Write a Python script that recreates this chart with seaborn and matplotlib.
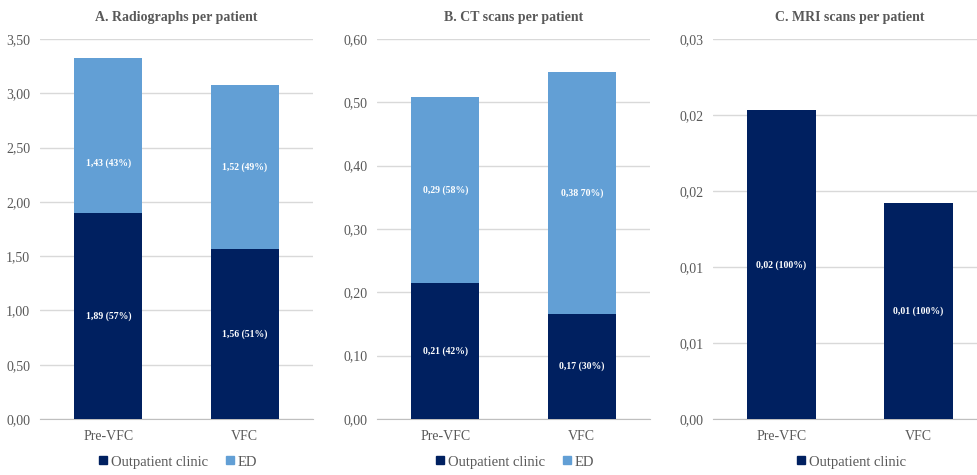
import matplotlib
matplotlib.use("Agg")
import matplotlib.pyplot as plt
from matplotlib.lines import Line2D
from matplotlib.ticker import MultipleLocator, FuncFormatter
from decimal import Decimal, ROUND_HALF_UP
import seaborn as sns
import pandas as pd

# data
periods = ["Pre-VFC", "VFC"]

xray_outpatient = [1.897, 1.566]
xray_ed = [1.428, 1.510]
xray_labels_op = ["1,89 (57%)", "1,56 (51%)"]
xray_labels_ed = ["1,43 (43%)", "1,52 (49%)"]

ct_outpatient = [0.215, 0.166]
ct_ed = [0.293, 0.382]
ct_labels_op = ["0,21 (42%)", "0,17 (30%)"]
ct_labels_ed = ["0,29 (58%)", "0,38 70%)"]

mri_outpatient = [0.0203, 0.0142]
mri_labels_op = ["0,02 (100%)", "0,01 (100%)"]

NAVY = "#002060"
LIGHT = "#629fd5"
GREY_TXT = "#595959"
SERIF = ["Liberation Serif", "DejaVu Serif"]

sns.set_style("white")
plt.rcParams["font.family"] = SERIF


def comma_fmt(v, pos):
    d = Decimal(str(round(v, 6))).quantize(Decimal("0.01"), rounding=ROUND_HALF_UP)
    return str(d).replace(".", ",")


def panel(ax, title, op, ed, lab_op, lab_ed, ymax, step, ed_frac=None):
    df = pd.DataFrame({"period": periods, "op": op})
    if ed is not None:
        df["total"] = [a + b for a, b in zip(op, ed)]
        sns.barplot(data=df, x="period", y="total", color=LIGHT, width=0.5,
                    saturation=1, linewidth=0, ax=ax, zorder=2)
    sns.barplot(data=df, x="period", y="op", color=NAVY, width=0.5,
                saturation=1, linewidth=0, ax=ax, zorder=3)

    for i in range(len(periods)):
        ax.text(i, op[i] / 2, lab_op[i], ha="center", va="center", color="white",
                fontsize=7, fontweight="bold", zorder=4)
        if ed is not None:
            f = ed_frac[i] if ed_frac else 0.5
            ax.text(i, op[i] + ed[i] * f, lab_ed[i], ha="center", va="center",
                    color="white", fontsize=7, fontweight="bold", zorder=4)

    ax.set_ylim(0, ymax)
    ax.set_xlim(-0.5, 1.5)
    ax.yaxis.set_major_locator(MultipleLocator(step))
    ax.yaxis.set_major_formatter(FuncFormatter(comma_fmt))
    ax.grid(axis="y", color="#d9d9d9", linewidth=1, zorder=0)
    ax.set_axisbelow(True)
    for s in ["top", "right", "left"]:
        ax.spines[s].set_visible(False)
    ax.spines["bottom"].set_color("#bfbfbf")
    ax.tick_params(axis="both", length=0, labelsize=10, labelcolor=GREY_TXT)
    ax.tick_params(axis="y", pad=7)
    ax.tick_params(axis="x", pad=8)
    for t in ax.get_xticklabels() + ax.get_yticklabels():
        t.set_family(SERIF)
    ax.set_xlabel("")
    ax.set_ylabel("")

    pos = ax.get_position()
    fig.text(pos.x0 + pos.width / 2, 1 - 17 / 475, title, ha="center", va="center",
             fontsize=10, fontweight="bold", color=GREY_TXT)

    handles = [Line2D([], [], marker="s", linestyle="", color=NAVY, markersize=6)]
    names = ["Outpatient clinic"]
    if ed is not None:
        handles.append(Line2D([], [], marker="s", linestyle="", color=LIGHT, markersize=6))
        names.append("ED")
    fig.legend(handles, names, loc="center",
               bbox_to_anchor=(pos.x0 + pos.width / 2, 1 - 462 / 475),
               ncol=len(names), frameon=False, prop={"family": SERIF, "size": 10.5},
               handletextpad=0.05, columnspacing=1.0, handlelength=1.0,
               labelcolor=GREY_TXT)


fig = plt.figure(figsize=(9.78, 4.75), dpi=100)
bottom = 1 - 419 / 475
height = 380 / 475
ax1 = fig.add_axes([40 / 978, bottom, 273 / 978, height])
ax2 = fig.add_axes([377 / 978, bottom, 273 / 978, height])
ax3 = fig.add_axes([713 / 978, bottom, 274 / 978, height])

panel(ax1, "A. Radiographs per patient", xray_outpatient, xray_ed,
      xray_labels_op, xray_labels_ed, 3.5, 0.5, ed_frac=[0.32, 0.5])
panel(ax2, "B. CT scans per patient", ct_outpatient, ct_ed,
      ct_labels_op, ct_labels_ed, 0.6, 0.1)
panel(ax3, "C. MRI scans per patient", mri_outpatient, None,
      mri_labels_op, None, 0.025, 0.005)

fig.savefig("out.png", dpi=100, facecolor="white")
